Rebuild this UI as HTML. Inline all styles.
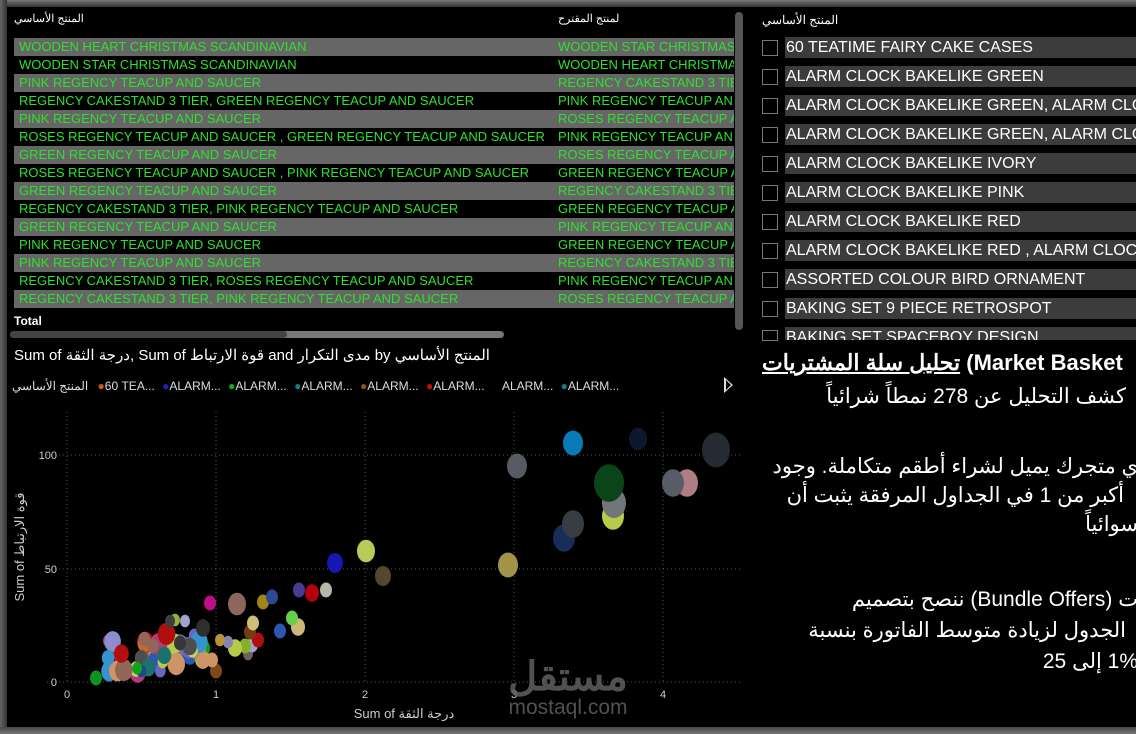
<!DOCTYPE html>
<html><head><meta charset="utf-8">
<style>
body{margin:0;width:1136px;height:734px;background:#000;overflow:hidden;position:relative;font-family:"Liberation Sans","Noto Sans CJK SC",sans-serif;}
.abs{position:absolute;white-space:nowrap;}
.row{position:absolute;left:14px;width:720px;height:18px;font-size:13px;color:#2fe02f;line-height:18px;overflow:hidden;white-space:nowrap;}
.row span{position:absolute;top:0;white-space:nowrap;}
.sl{position:absolute;left:785px;width:351px;height:21px;background:#3c3c3c;color:#fff;font-size:16px;line-height:21px;padding-left:1px;overflow:hidden;white-space:nowrap;}
.cb{position:absolute;left:762px;width:14px;height:14px;border:1px solid #777;}
.ar{font-size:21px;color:#fff;direction:rtl;}
.lg span{unicode-bidi:isolate;}
</style></head><body>
<div class="abs" style="left:0;top:0;width:1136px;height:7px;background:linear-gradient(#777,#333);"></div>
<div class="abs" style="left:0;top:0;width:7px;height:734px;background:linear-gradient(90deg,#666,#333);"></div>
<div class="abs" style="left:0;top:727px;width:1136px;height:7px;background:linear-gradient(#444,#777);"></div>

<div class="abs" style="left:14px;top:12px;font-size:11px;color:#fff;">المنتج الأساسي</div>
<div class="abs" style="left:558px;top:12px;font-size:11px;color:#fff;">لمنتج المقترح</div>
<div id="rows"></div>
<div class="abs" style="left:14px;top:314px;font-size:12px;font-weight:bold;color:#fff;">Total</div>
<div class="abs" style="left:10px;top:331px;width:494px;height:7px;border-radius:4px;background:#777;"></div>
<div class="abs" style="left:10px;top:331px;width:277px;height:7px;border-radius:4px;background:#444;"></div>
<div class="abs" style="left:735px;top:12px;width:8px;height:318px;border-radius:4px;background:#555;"></div>

<div class="abs" style="left:762px;top:13px;font-size:12px;color:#fff;">المنتج الأساسي</div>
<div id="sl"></div>

<div class="abs" style="left:14px;top:346px;font-size:15px;color:#fff;">Sum of درجة الثقة, Sum of قوة الارتباط and مدى التكرار by المنتج الأساسي</div>
<div class="abs lg" style="left:12px;top:379px;font-size:12px;color:#ddd;direction:ltr;">
<span>المنتج الأساسي</span>
<span style="margin-left:6px;color:#d4561e">●</span><span>60 TEA...</span>
<span style="margin-left:4px;color:#2020d0">●</span><span>ALARM...</span>
<span style="margin-left:4px;color:#10b020">●</span><span>ALARM...</span>
<span style="margin-left:4px;color:#1e7a7a">●</span><span>ALARM...</span>
<span style="margin-left:4px;color:#8a5018">●</span><span>ALARM...</span>
<span style="margin-left:4px;color:#c01010">●</span><span>ALARM...</span>
<span style="margin-left:14px;"></span><span>ALARM...</span>
<span style="margin-left:4px;color:#1e7a7a">●</span><span>ALARM...</span>
</div>
<div class="abs" style="left:724px;top:377px;width:0;height:0;border-top:8px solid transparent;border-bottom:8px solid transparent;border-left:9px solid #ddd;"></div>
<div class="abs" style="left:726px;top:380px;width:0;height:0;border-top:5px solid transparent;border-bottom:5px solid transparent;border-left:5px solid #000;"></div>

<svg class="abs" style="left:0;top:0" width="740" height="734" font-family="Liberation Sans, Noto Sans CJK SC, sans-serif">
<g stroke="#555" stroke-dasharray="1,3" stroke-width="1">
<line x1="47" y1="455" x2="740" y2="455"/><line x1="47" y1="569" x2="740" y2="569"/><line x1="47" y1="682" x2="740" y2="682"/>
<line x1="67" y1="412" x2="67" y2="682"/><line x1="216" y1="412" x2="216" y2="682"/><line x1="365" y1="412" x2="365" y2="682"/><line x1="514" y1="412" x2="514" y2="682"/><line x1="663" y1="412" x2="663" y2="682"/>
</g>
<g fill="#ccc" font-size="11">
<text x="57" y="459" text-anchor="end">100</text><text x="57" y="573" text-anchor="end">50</text><text x="57" y="686" text-anchor="end">0</text>
<text x="67" y="698" text-anchor="middle">0</text><text x="216" y="698" text-anchor="middle">1</text><text x="365" y="698" text-anchor="middle">2</text><text x="514" y="698" text-anchor="middle">3</text><text x="663" y="698" text-anchor="middle">4</text>
</g>
<text x="404" y="718" fill="#ccc" font-size="13" text-anchor="middle">Sum of درجة الثقة</text>
<text transform="translate(24,547) rotate(-90)" fill="#ccc" font-size="13" text-anchor="middle">Sum of قوة الارتباط</text>
<g id="bub" opacity="0.92"></g>
<text x="568" y="690" fill="#666" opacity="0.8" font-size="40" font-weight="bold" text-anchor="middle">مستقل</text>
<text x="568" y="714" fill="#666" opacity="0.8" font-size="21" text-anchor="middle">mostaql.com</text>
</svg>

<div class="abs" style="left:762px;top:350px;font-size:22px;font-weight:bold;color:#fff;"><u>تحليل سلة المشتريات</u> <span style="direction:ltr;unicode-bidi:isolate">(Market Basket</span></div>
<div class="abs ar" style="right:10px;top:384px;">كشف التحليل عن 278 نمطاً شرائياً</div>
<div class="abs ar" style="right:-2px;top:454px;">ي متجرك يميل لشراء أطقم متكاملة. وجود</div>
<div class="abs ar" style="right:12px;top:483px;">أكبر من 1 في الجداول المرفقة يثبت أن</div>
<div class="abs ar" style="right:-2px;top:512px;">سوائياً</div>
<div class="abs ar" style="right:-2px;top:587px;">ت (Bundle Offers) ننصح بتصميم</div>
<div class="abs ar" style="right:10px;top:618px;">الجدول لزيادة متوسط الفاتورة بنسبة</div>
<div class="abs ar" style="right:-2px;top:649px;">1% إلى 25</div>

<script>
var L=["WOODEN HEART CHRISTMAS SCANDINAVIAN","WOODEN STAR CHRISTMAS SCANDINAVIAN","PINK REGENCY TEACUP AND SAUCER","REGENCY CAKESTAND 3 TIER, GREEN REGENCY TEACUP AND SAUCER","PINK REGENCY TEACUP AND SAUCER","ROSES REGENCY TEACUP AND SAUCER , GREEN REGENCY TEACUP AND SAUCER","GREEN REGENCY TEACUP AND SAUCER","ROSES REGENCY TEACUP AND SAUCER , PINK REGENCY TEACUP AND SAUCER","GREEN REGENCY TEACUP AND SAUCER","REGENCY CAKESTAND 3 TIER, PINK REGENCY TEACUP AND SAUCER","GREEN REGENCY TEACUP AND SAUCER","PINK REGENCY TEACUP AND SAUCER","PINK REGENCY TEACUP AND SAUCER","REGENCY CAKESTAND 3 TIER, ROSES REGENCY TEACUP AND SAUCER","REGENCY CAKESTAND 3 TIER, PINK REGENCY TEACUP AND SAUCER"];
var R=["WOODEN STAR CHRISTMAS","WOODEN HEART CHRISTMA","REGENCY CAKESTAND 3 TIE","PINK REGENCY TEACUP AN","ROSES REGENCY TEACUP A","PINK REGENCY TEACUP AN","ROSES REGENCY TEACUP A","GREEN REGENCY TEACUP A","REGENCY CAKESTAND 3 TIE","GREEN REGENCY TEACUP A","PINK REGENCY TEACUP AN","GREEN REGENCY TEACUP A","REGENCY CAKESTAND 3 TIE","PINK REGENCY TEACUP AN","ROSES REGENCY TEACUP A"];
var h="";
for(var i=0;i<15;i++){h+='<div class="row" style="top:'+(38+i*18)+'px;background:'+(i%2==0?'#666':'#000')+'"><span style="left:5px">'+L[i]+'</span><span style="left:544px">'+R[i]+'</span></div>';}
document.getElementById("rows").innerHTML=h;
var S=["60 TEATIME FAIRY CAKE CASES","ALARM CLOCK BAKELIKE GREEN","ALARM CLOCK BAKELIKE GREEN, ALARM CLOCK BAKELIKE RED","ALARM CLOCK BAKELIKE GREEN, ALARM CLOCK BAKELIKE PINK","ALARM CLOCK BAKELIKE IVORY","ALARM CLOCK BAKELIKE PINK","ALARM CLOCK BAKELIKE RED","ALARM CLOCK BAKELIKE RED , ALARM CLOCK BAKELIKE GREEN","ASSORTED COLOUR BIRD ORNAMENT","BAKING SET 9 PIECE RETROSPOT","BAKING SET SPACEBOY DESIGN"];
h="";
for(var i=0;i<11;i++){var t=37+i*29;var hh=(i==10)?(340-t):21;h+='<div class="sl" style="top:'+t+'px;height:'+hh+'px">'+S[i]+'</div><div class="cb" style="top:'+(t+3)+'px;height:'+Math.min(14,hh-4)+'px"></div>';}
document.getElementById("sl").innerHTML=h;
var B=[[573,443,10,"#0a84c8"],[638,439,9,"#0f1a33"],[716,450,14,"#2a2f38"],[517,466,10,"#60626c"],[609,483,15,"#0d4a1c"],[614,503,12,"#7c8084"],[613,516,11,"#c8dc50"],[673,483,11,"#606470"],[687,483,11,"#c08890"],[573,524,11,"#3c4048"],[564,538,11,"#1c3060"],[508,565,10,"#b0a050"],[366,551,9,"#c8dc60"],[335,563,8,"#1818c0"],[383,576,8,"#5a5030"],[326,590,6,"#c8c8b8"],[312,593,7,"#c00010"],[299,590,6,"#5040a0"],[272,597,6,"#3050a0"],[263,602,6,"#b09020"],[237,604,9,"#9a7066"],[210,603,6,"#d01090"],[292,618,6,"#70e050"],[298,627,7,"#e0c880"],[280,631,6,"#3060c0"],[253,623,6,"#e0d080"],[250,632,6,"#804010"],[258,640,6,"#c01010"],[203,628,7,"#333"],[170,621,5,"#444"],[185,621,5,"#b0b0e0"],[175,620,5,"#a0c040"],[220,640,5,"#c8a040"],[228,642,5,"#9090c0"],[180,643,6,"#3c3c3c"],[212,660,6,"#e0a070"],[216,671,6,"#8a5018"],[235,648,7,"#c8dc50"],[245,646,6,"#90c030"],[252,645,6,"#b0b0e0"],[248,654,5,"#7a6a60"]];
var seed=11;function rnd(){seed=(seed*16807)%2147483647;return seed/2147483647;}
var cols=["#3aa0e0","#d4561e","#9a9ae0","#10b020","#1e7a7a","#e0a070","#3060c0","#c8dc50","#888","#555","#b0a050","#c04080","#e0e080","#205090","#a07060","#60c0c0","#c01010","#8a5018","#e07030","#7070d0"];
for(var i=0;i<45;i++){var x=108+rnd()*95;var y=640+rnd()*40-(x-108)*0.12;B.push([x,y,5+rnd()*4,cols[Math.floor(rnd()*cols.length)]]);}
B.push([96,678,6,"#10a020"],[108,675,6,"#222"],[120,668,6,"#e0e080"],[146,667,7,"#e0e080"]);
h="";
for(var i=B.length-1;i>=0;i--){var b=B[i];h+='<ellipse cx="'+b[0].toFixed(1)+'" cy="'+b[1].toFixed(1)+'" rx="'+b[2].toFixed(1)+'" ry="'+(b[2]*1.25).toFixed(1)+'" fill="'+b[3]+'"/>';}
document.getElementById("bub").innerHTML=h;
</script>
</body></html>
